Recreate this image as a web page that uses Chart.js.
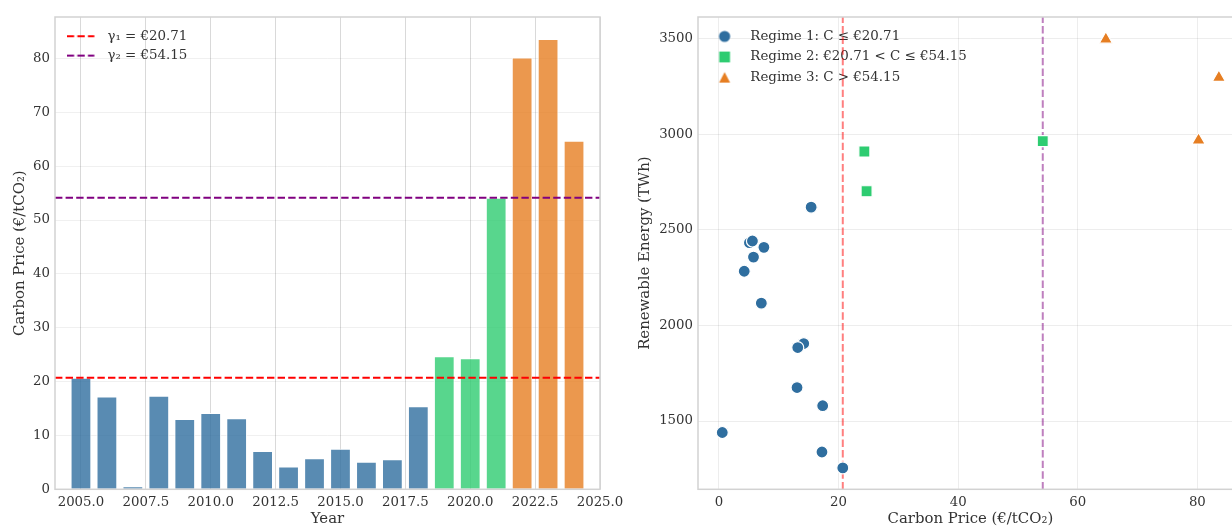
<!DOCTYPE html>
<html><head><meta charset="utf-8">
<script src="https://cdn.jsdelivr.net/npm/chart.js@4.4.1/dist/chart.umd.min.js"></script>
<style>
html,body{margin:0;padding:0;background:#ffffff;}
body{width:1232px;height:526px;overflow:hidden;position:relative;}
canvas{position:absolute;top:0;}
#left{left:0;}
#right{left:620px;}
</style></head>
<body>
<canvas id="left" width="640" height="526"></canvas>
<canvas id="right" width="640" height="526"></canvas>
<script>
// ---------------- data ----------------
const years = [2005,2006,2007,2008,2009,2010,2011,2012,2013,2014,2015,2016,2017,2018,2019,2020,2021,2022,2023,2024];
const carbonPrice = [20.71,17.23,0.56,17.35,13.06,14.18,13.18,7.09,4.23,5.78,7.52,5.10,5.60,15.42,24.69,24.32,54.15,80.2,83.6,64.7];
const renewableTWh = [1255,1338,1440,1580,1675,1905,1884,2116,2283,2357,2408,2432,2441,2618,2701,2909,2963,2968,3295,3495];
const gamma = [20.71, 54.15];
const gammaLabels = ['γ₁ = €20.71', 'γ₂ = €54.15'];
const regimeLabels = ['Regime 1: C ≤ €20.71', 'Regime 2: €20.71 < C ≤ €54.15', 'Regime 3: C > €54.15'];
const yearTicks = [2005,2007.5,2010,2012.5,2015,2017.5,2020,2022.5,2025];
const priceTicks = [0,10,20,30,40,50,60,70,80];
const carbonAxisTicks = [0,20,40,60,80];
const energyTicks = [1500,2000,2500,3000,3500];
const yearRange = [2004, 2025];
const priceRange = [0, 87.7];
const carbonRange = [-3.5, 87.6];
const energyRange = [1143, 3612];

// ---------------- style ----------------
const FONT = 'DejaVu Serif';
const TEXT = '#333333';
const regimeColors = ['#2F6E9F', '#2ECC71', '#E67E22'];
const regimeStyles = ['circle', 'rect', 'triangle'];
const regimeRadius = [6, 7.8, 7.6];
function rgba(hex, a){
  const n = parseInt(hex.slice(1),16);
  return 'rgba(' + ((n>>16)&255) + ',' + ((n>>8)&255) + ',' + (n&255) + ',' + a + ')';
}
function regimeOf(p){ return p <= gamma[0] ? 0 : (p <= gamma[1] ? 1 : 2); }
const regimeIdx = carbonPrice.map(regimeOf);

Chart.defaults.font.family = FONT;
Chart.defaults.color = TEXT;
Chart.defaults.animation = false;

function fixedTicks(arr){ return function(scale){ scale.ticks = arr.map(v => ({value: v})); }; }

const framePlugin = {
  id: 'frame',
  afterDatasetsDraw(chart){
    const a = chart.chartArea, c = chart.ctx;
    c.save();
    c.strokeStyle = '#d2d2d2';
    c.lineWidth = 1.5;
    c.strokeRect(a.left, a.top, a.right - a.left, a.bottom - a.top);
    c.restore();
  }
};
const legendShift = {
  id: 'legendShift',
  afterLayout(chart, args, opts){
    if (chart.legend){ chart.legend.left += (opts.dx || 0); chart.legend.top += (opts.dy || 0); }
  }
};

function swatch(w, h, draw){
  const c = document.createElement('canvas');
  c.width = w; c.height = h;
  draw(c.getContext('2d'), w, h);
  return c;
}
function lineSwatch(color){
  return swatch(34, 6, (g, w, h) => {
    g.strokeStyle = color; g.lineWidth = 2; g.setLineDash([7.4, 3.2]);
    g.beginPath(); g.moveTo(0, h/2); g.lineTo(27.6, h/2); g.stroke();
  });
}
function markerSwatch(r){
  return swatch(38, 16, (g, w, h) => {
    const cx = w/2, cy = h/2;
    g.fillStyle = regimeColors[r];
    g.beginPath();
    if (r === 0){ g.arc(cx, cy, 5.6, 0, Math.PI*2); }
    else if (r === 1){ g.rect(cx-5.4, cy-5.4, 10.8, 10.8); }
    else { g.moveTo(cx, cy-5.5); g.lineTo(cx+5.5, cy+5); g.lineTo(cx-5.5, cy+5); g.closePath(); }
    g.fill();
  });
}

// ---------------- left: bar chart ----------------
new Chart(document.getElementById('left'), {
  type: 'bar',
  data: {
    datasets: [
      {
        type: 'bar',
        data: years.map((y, i) => ({x: y, y: carbonPrice[i]})),
        backgroundColor: regimeIdx.map(r => rgba(regimeColors[r], 0.8)),
        borderColor: 'rgba(255,255,255,0.9)',
        borderWidth: 1,
        barPercentage: 0.8,
        categoryPercentage: 1,
        order: 2
      },
      {
        type: 'line', label: gammaLabels[0],
        data: [{x: yearRange[0], y: gamma[0]}, {x: yearRange[1], y: gamma[0]}],
        borderColor: '#ff0000', borderWidth: 2, borderDash: [7.4, 3.2], pointRadius: 0, order: 0
      },
      {
        type: 'line', label: gammaLabels[1],
        data: [{x: yearRange[0], y: gamma[1]}, {x: yearRange[1], y: gamma[1]}],
        borderColor: '#800080', borderWidth: 2, borderDash: [7.4, 3.2], pointRadius: 0, order: 0
      }
    ]
  },
  options: {
    responsive: false,
    animation: false,
    layout: {padding: {left: 0, right: 40, top: 17, bottom: 0}},
    scales: {
      x: {
        type: 'linear', min: yearRange[0], max: yearRange[1], offset: false,
        afterBuildTicks: fixedTicks(yearTicks),
        afterFit(s){ s.height = 36.7; },
        grid: {color: 'rgba(0,0,0,0.15)', drawTicks: false, offset: false},
        border: {display: false},
        ticks: {autoSkip: false, maxRotation: 0, padding: 5, font: {size: 13.3}, callback: v => Number(v).toFixed(1)},
        title: {display: true, text: 'Year', font: {size: 14.9}, padding: {top: 0, bottom: -2}}
      },
      y: {
        min: priceRange[0], max: priceRange[1],
        afterBuildTicks: fixedTicks(priceTicks),
        afterFit(s){ s.width = 55; },
        grid: {color: 'rgba(0,0,0,0.06)', drawTicks: false},
        border: {display: false},
        ticks: {padding: 5, font: {size: 13.3}, callback: v => String(v)},
        title: {display: true, text: 'Carbon Price (€/tCO₂)', font: {size: 14.9}, padding: {top: 11.5, bottom: 0}}
      }
    },
    plugins: {
      legend: {
        position: 'chartArea', align: 'start',
        labels: {
          usePointStyle: true, pointStyleWidth: 34, padding: 6,
          font: {size: 13.4}, color: TEXT,
          generateLabels: () => [
            {text: gammaLabels[0], pointStyle: lineSwatch('#ff0000'), fillStyle: '#ff0000', strokeStyle: '#ff0000', lineWidth: 0, hidden: false, fontColor: TEXT, datasetIndex: 1},
            {text: gammaLabels[1], pointStyle: lineSwatch('#800080'), fillStyle: '#800080', strokeStyle: '#800080', lineWidth: 0, hidden: false, fontColor: TEXT, datasetIndex: 2}
          ]
        }
      },
      tooltip: {enabled: false},
      legendShift: {dx: 5.7, dy: 23.5}
    }
  },
  plugins: [framePlugin, legendShift]
});

// ---------------- right: scatter ----------------
const points = carbonPrice.map((p, i) => ({x: p, y: renewableTWh[i]}));
const scatterSets = [0, 1, 2].map(r => ({
  label: regimeLabels[r],
  data: points.filter((_, i) => regimeIdx[i] === r),
  pointStyle: regimeStyles[r],
  pointRadius: regimeRadius[r],
  backgroundColor: regimeColors[r],
  borderColor: '#ffffff',
  borderWidth: 1.2,
  order: 0
}));
const vlines = gamma.map((g, k) => ({
  data: [{x: g, y: energyRange[0]}, {x: g, y: energyRange[1]}],
  showLine: true, pointRadius: 0,
  borderColor: k === 0 ? 'rgba(255,0,0,0.5)' : 'rgba(128,0,128,0.5)',
  borderWidth: 2, borderDash: [7.4, 3.2],
  order: 5
}));

new Chart(document.getElementById('right'), {
  type: 'scatter',
  data: {datasets: scatterSets.concat(vlines)},
  options: {
    responsive: false,
    animation: false,
    layout: {padding: {left: 0, right: 17.2, top: 17, bottom: 0}},
    scales: {
      x: {
        type: 'linear', min: carbonRange[0], max: carbonRange[1],
        afterBuildTicks: fixedTicks(carbonAxisTicks),
        afterFit(s){ s.height = 36.7; },
        grid: {color: 'rgba(0,0,0,0.07)', drawTicks: false},
        border: {display: false},
        ticks: {autoSkip: false, maxRotation: 0, padding: 5, font: {size: 13.3}, callback: v => String(v)},
        title: {display: true, text: 'Carbon Price (€/tCO₂)', font: {size: 14.9}, padding: {top: 0, bottom: -2}}
      },
      y: {
        min: energyRange[0], max: energyRange[1],
        afterBuildTicks: fixedTicks(energyTicks),
        afterFit(s){ s.width = 78; },
        grid: {color: 'rgba(0,0,0,0.07)', drawTicks: false},
        border: {display: false},
        ticks: {padding: 5, font: {size: 13.3}, callback: v => String(v)},
        title: {display: true, text: 'Renewable Energy (TWh)', font: {size: 14.9}, padding: {top: 16, bottom: 0}}
      }
    },
    plugins: {
      legend: {
        position: 'chartArea', align: 'start',
        labels: {
          usePointStyle: true, pointStyleWidth: 38, padding: 7.2,
          font: {size: 13.4}, color: TEXT,
          generateLabels: () => [0, 1, 2].map(r => ({
            text: regimeLabels[r], pointStyle: markerSwatch(r), fillStyle: regimeColors[r],
            strokeStyle: regimeColors[r], lineWidth: 0, hidden: false, fontColor: TEXT, datasetIndex: r
          }))
        }
      },
      tooltip: {enabled: false},
      legendShift: {dx: 0.4, dy: 22.5}
    }
  },
  plugins: [framePlugin, legendShift]
});
</script>
</body></html>
